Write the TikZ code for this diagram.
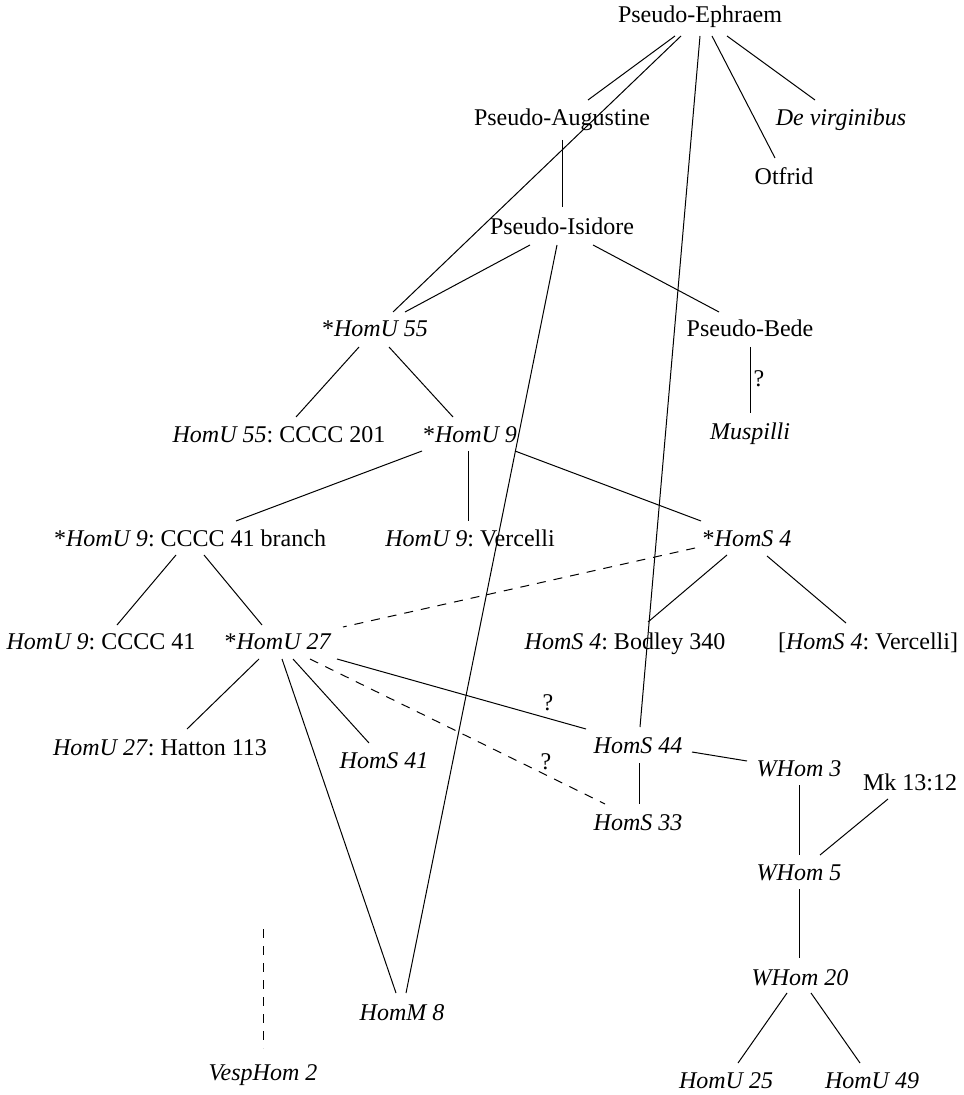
\documentclass[tikz,border=0pt]{standalone}
\usepackage{fontspec}
\setmainfont{Liberation Serif}
\frenchspacing
\begin{document}
\begin{tikzpicture}[x=0.5pt,y=-0.5pt,
  lbl/.style={anchor=base, inner sep=0pt, font=\fontsize{12}{14}\selectfont},
  qm/.style={anchor=center, inner sep=0pt, font=\fontsize{12}{14}\selectfont},
  ln/.style={line width=0.5pt},
  dl/.style={line width=0.5pt, dash pattern=on 4.5pt off 4pt}]
\useasboundingbox (0,0) rectangle (963,1095);
% nodes (base points)
\node[lbl] (pe) at (700,23) {Pseudo-Ephraem};
\node[lbl] (pa) at (562,126) {Pseudo-Augustine};
\node[lbl] (dv) at (841,126) {\textit{De virginibus}};
\node[lbl] (ot) at (784,185) {Otfrid};
\node[lbl] (pi) at (562,235) {Pseudo-Isidore};
\node[lbl] (h55) at (375,337) {*\textit{HomU 55}};
\node[lbl] (pb) at (750,337) {Pseudo-Bede};
\node[lbl] (c201) at (279,443) {\textit{HomU 55}: CCCC 201};
\node[lbl] (h9) at (470,443) {*\textit{HomU 9}};
\node[lbl] (mus) at (750,440) {\textit{Muspilli}};
\node[lbl] (br) at (190,546) {*\textit{HomU 9}: CCCC 41 branch};
\node[lbl] (h9v) at (470,546) {\textit{HomU 9}: Vercelli};
\node[lbl] (hs4) at (747,546) {*\textit{HomS 4}};
\node[lbl] (c41) at (101,649) {\textit{HomU 9}: CCCC 41};
\node[lbl] (h27) at (278,649) {*\textit{HomU 27}};
\node[lbl] (bod) at (625,649) {\textit{HomS 4}: Bodley 340};
\node[lbl] (hs4v) at (868,649) {[\textit{HomS 4}: Vercelli]};
\node[lbl] (hat) at (160,755) {\textit{HomU 27}: Hatton 113};
\node[lbl] (hs41) at (384,768) {\textit{HomS 41}};
\node[lbl] (hs44) at (638,753) {\textit{HomS 44}};
\node[lbl] (wh3) at (799,776) {\textit{WHom 3}};
\node[lbl] (mk) at (910,790) {Mk 13:12};
\node[lbl] (hs33) at (638,830) {\textit{HomS 33}};
\node[lbl] (wh5) at (799,880) {\textit{WHom 5}};
\node[lbl] (wh20) at (800,985) {\textit{WHom 20}};
\node[lbl] (hm8) at (402,1020) {\textit{HomM 8}};
\node[lbl] (vh2) at (263,1080) {\textit{VespHom 2}};
\node[lbl] (hu25) at (726,1088) {\textit{HomU 25}};
\node[lbl] (hu49) at (872,1088) {\textit{HomU 49}};
\coordinate (vtop) at (263,929);
% question marks
\node[qm] (q1) at (759,379) {?};
\node[qm] (q2) at (548,703) {?};
\node[qm] (q3) at (546,762) {?};
% connectors
\draw[ln] ([shift={(-25,13)}]pe.base) -- ([shift={(26,-26)}]pa.base);
\draw[ln] ([shift={(-19,13)}]pe.base) -- ([shift={(18,-25)}]h55.base);
\draw[ln] ([shift={(0,13)}]pe.base) -- ([shift={(2,-26)}]hs44.base);
\draw[ln] ([shift={(12,13)}]pe.base) -- ([shift={(-9,-27)}]ot.base);
\draw[ln] ([shift={(27,13)}]pe.base) -- ([shift={(-26,-26)}]dv.base);
\draw[ln] ([shift={(0,14)}]pa.base) -- ([shift={(0,-28)}]pi.base);
\draw[ln] ([shift={(-32,10)}]pi.base) -- ([shift={(30,-25)}]h55.base);
\draw[ln] ([shift={(-5,10)}]pi.base) -- ([shift={(4,-27)}]hm8.base);
\draw[ln] ([shift={(31,10)}]pi.base) -- ([shift={(-31,-25)}]pb.base);
\draw[ln] ([shift={(0,10)}]pb.base) -- ([shift={(0,-27)}]mus.base);
\draw[ln] ([shift={(-16,10)}]h55.base) -- ([shift={(17,-26)}]c201.base);
\draw[ln] ([shift={(14,10)}]h55.base) -- ([shift={(-17,-26)}]h9.base);
\draw[ln] ([shift={(-48,8)}]h9.base) -- ([shift={(46,-25)}]br.base);
\draw[ln] ([shift={(-2,8)}]h9.base) -- ([shift={(-2,-25)}]h9v.base);
\draw[ln] ([shift={(45,8)}]h9.base) -- ([shift={(-46,-25)}]hs4.base);
\draw[ln] ([shift={(-14,9)}]br.base) -- ([shift={(16,-24)}]c41.base);
\draw[ln] ([shift={(14,9)}]br.base) -- ([shift={(-16,-24)}]h27.base);
\draw[dl] ([shift={(-52,2)}]hs4.base) -- ([shift={(65,-22)}]h27.base);
\draw[ln] ([shift={(-20,9)}]hs4.base) -- ([shift={(23,-27)}]bod.base);
\draw[ln] ([shift={(20,10)}]hs4.base) -- ([shift={(-22,-26)}]hs4v.base);
\draw[ln] ([shift={(-19,10)}]h27.base) -- ([shift={(27,-26)}]hat.base);
\draw[ln] ([shift={(15,10)}]h27.base) -- ([shift={(-15,-25)}]hs41.base);
\draw[ln] ([shift={(59,10)}]h27.base) -- ([shift={(-52,-24)}]hs44.base);
\draw[dl] ([shift={(32,10)}]h27.base) -- ([shift={(-33,-26)}]hs33.base);
\draw[ln] ([shift={(4,10)}]h27.base) -- ([shift={(-6,-27)}]hm8.base);
\draw[ln] ([shift={(1,10)}]hs44.base) -- ([shift={(1,-26)}]hs33.base);
\draw[ln] ([shift={(54,-1)}]hs44.base) -- ([shift={(-52,-15)}]wh3.base);
\draw[ln] ([shift={(0,9)}]wh3.base) -- ([shift={(0,-25)}]wh5.base);
\draw[ln] ([shift={(-22,9)}]mk.base) -- ([shift={(21,-25)}]wh5.base);
\draw[ln] ([shift={(0,9)}]wh5.base) -- ([shift={(-1,-27)}]wh20.base);
\draw[ln] ([shift={(-13,8)}]wh20.base) -- ([shift={(12,-25)}]hu25.base);
\draw[ln] ([shift={(11,8)}]wh20.base) -- ([shift={(-12,-25)}]hu49.base);
\draw[dl] (vtop) -- ([shift={(0,-32)}]vh2.base);
\end{tikzpicture}
\end{document}
